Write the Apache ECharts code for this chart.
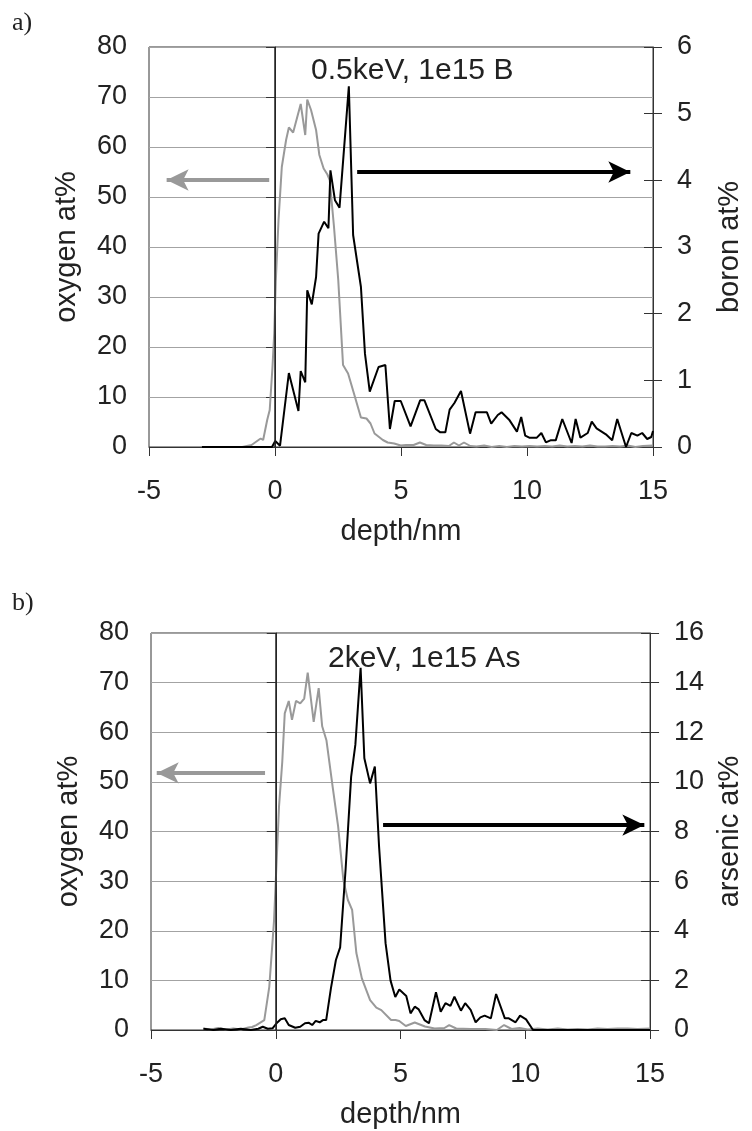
<!DOCTYPE html>
<html><head><meta charset="utf-8">
<script src="https://cdn.jsdelivr.net/npm/echarts@6/dist/echarts.min.js"></script>
<style>html,body{margin:0;padding:0;background:#fff}#c{width:752px;height:1131px}</style>
</head><body><div id="c"></div>
<script>
// ---- data (depth nm, value at%) ----
const depthRange = [-5, 15, 5];
const oxygenRange = [0, 80, 10];
const boronRange = [0, 6, 1];
const arsenicRange = [0, 16, 2];

const topOxygen = [[-2.9,0],[-2.0,0],[-1.3,0],[-0.93,0.4],[-0.57,1.7],[-0.47,1.4],[-0.31,5.4],[-0.21,7.4],[-0.1,16],[-0.03,22.8],[0.03,33],[0.14,45.4],[0.27,56],[0.44,61.4],[0.55,63.9],[0.72,62.9],[1.02,68.6],[1.2,62.4],[1.28,69.5],[1.43,67.4],[1.63,63.4],[1.76,58.4],[1.93,55.7],[2.08,54.5],[2.17,53.4],[2.34,44.1],[2.51,33.4],[2.7,16.4],[2.9,14.7],[3.11,11.1],[3.41,5.9],[3.63,5.7],[3.79,4.7],[3.95,2.7],[4.28,1.4],[4.47,0.9],[4.73,0.7],[4.99,0.3],[5.2,0.4],[5.5,0.4],[5.75,0.9],[6.0,0.4],[6.3,0.3],[6.6,0.3],[6.9,0.2],[7.1,0.9],[7.3,0.3],[7.5,0.9],[7.75,0.2],[8.0,0.1],[8.3,0.3],[8.6,0],[8.9,0.2],[9.2,0],[9.5,0.2],[9.8,0.1],[10.1,0.2],[10.4,0.1],[10.7,0.2],[11.0,0.1],[11.3,0.3],[11.6,0.1],[11.9,0.2],[12.2,0.1],[12.5,0.3],[12.8,0.1],[13.1,0.1],[13.4,0.2],[13.7,0.1],[14.0,0.3],[14.3,0],[14.6,0.2],[15,0.3]];

const topBoron = [[-2.9,0],[-2.0,0],[-1.0,0],[-0.12,0],[0.01,0.09],[0.2,0.02],[0.55,1.11],[0.93,0.54],[1.02,1.14],[1.2,0.97],[1.28,2.35],[1.46,2.14],[1.63,2.55],[1.73,3.2],[1.95,3.38],[2.12,3.28],[2.2,4.15],[2.38,3.7],[2.56,3.59],[2.93,5.41],[3.1,3.18],[3.41,2.4],[3.57,1.4],[3.76,0.83],[4.11,1.2],[4.38,1.23],[4.56,0.27],[4.75,0.69],[4.99,0.69],[5.38,0.31],[5.76,0.7],[5.93,0.7],[6.38,0.27],[6.56,0.22],[6.76,0.22],[6.93,0.56],[7.12,0.66],[7.38,0.84],[7.74,0.2],[7.96,0.52],[8.41,0.52],[8.58,0.35],[8.84,0.48],[8.99,0.52],[9.31,0.4],[9.6,0.23],[9.77,0.45],[9.93,0.17],[10.09,0.14],[10.39,0.14],[10.57,0.21],[10.75,0.07],[10.93,0.1],[11.14,0.1],[11.4,0.42],[11.77,0.06],[11.93,0.42],[12.12,0.14],[12.41,0.21],[12.57,0.38],[12.76,0.28],[13.13,0.19],[13.38,0.1],[13.58,0.42],[13.93,0],[14.14,0.21],[14.38,0.17],[14.57,0.21],[14.77,0.12],[14.93,0.15],[15.0,0.24]];

const botOxygen = [[-2.9,0.3],[-2.6,0.1],[-2.3,0.4],[-2.0,0.1],[-1.7,0.3],[-1.4,0.1],[-1.1,0.5],[-0.95,0.6],[-0.78,1],[-0.46,2],[-0.26,8.7],[-0.07,22],[0.13,45],[0.26,54],[0.36,63.8],[0.52,66.3],[0.65,62.5],[0.81,66.3],[0.98,65.8],[1.14,66.8],[1.28,72],[1.52,62.1],[1.72,68.9],[1.86,61.2],[2.03,58.4],[2.28,49],[2.5,41],[2.71,30.2],[2.89,26.2],[3.06,24.2],[3.23,15.5],[3.45,10.4],[3.78,6],[4.03,4.5],[4.23,4],[4.62,2],[4.8,2],[4.95,1.8],[5.21,0.8],[5.57,1.5],[5.98,0.7],[6.37,0.3],[6.76,0.4],[6.95,1],[7.23,0.3],[7.81,0.2],[8.4,0.2],[8.86,0],[9.15,1],[9.45,0.2],[9.77,0.4],[10.1,0.1],[10.5,0.3],[10.9,0.1],[11.3,0.3],[11.7,0.1],[12.1,0.2],[12.5,0.1],[12.9,0.3],[13.3,0.2],[13.7,0.3],[14.1,0.3],[14.5,0.2],[15,0.3]];

const botArsenic = [[-2.9,0.05],[-2.5,0],[-2.2,0.05],[-1.8,0],[-1.4,0.05],[-1.0,0],[-0.7,0.05],[-0.52,0.13],[-0.32,0.05],[-0.13,0.07],[0.03,0.27],[0.2,0.43],[0.36,0.47],[0.52,0.2],[0.78,0.09],[0.98,0.13],[1.17,0.27],[1.33,0.29],[1.46,0.2],[1.6,0.37],[1.76,0.31],[1.89,0.4],[2.02,0.4],[2.21,1.68],[2.41,2.82],[2.58,3.33],[2.8,6.5],[3.02,10.2],[3.19,11.5],[3.4,14.6],[3.55,10.95],[3.78,9.94],[3.97,10.62],[4.14,7.39],[4.4,3.5],[4.6,1.99],[4.79,1.33],[4.95,1.63],[5.23,1.37],[5.4,0.67],[5.57,0.94],[5.73,0.83],[5.96,0.4],[6.14,0.27],[6.42,1.52],[6.61,0.74],[6.8,1.08],[7.0,0.97],[7.16,1.34],[7.42,0.78],[7.59,1.08],[7.81,0.81],[8.01,0.31],[8.2,0.51],[8.37,0.58],[8.62,0.47],[8.83,1.45],[9.18,0.47],[9.34,0.47],[9.61,0.31],[9.79,0.58],[10.03,0.43],[10.31,0],[11,0],[12,0],[13,0],[14,0],[15,0]];

// arrows: [startDepth, endDepth, level on oxygen axis]
const topGrayArrow = [-0.23, -4.3, 53.4];
const topBlackArrow = [3.26, 14.1, 55];
const botGrayArrow = [-0.43, -4.77, 51.8];
const botBlackArrow = [4.3, 14.77, 41.3];

const labels = {
  topNote: '0.5keV, 1e15 B', botNote: '2keV, 1e15 As',
  depth: 'depth/nm', oxygen: 'oxygen at%', boron: 'boron at%', arsenic: 'arsenic at%'
};

// ---- styling ----
const FONT = 'Liberation Sans, Arial, sans-serif';
const TXT = '#222';
const tickFont = 27, nameFont = 29;

function xAxisFor(gi) {
  return {
    gridIndex: gi, type: 'value', min: depthRange[0], max: depthRange[1], interval: depthRange[2],
    axisLine: { show: true, onZero: false, lineStyle: { color: '#333', width: 1 } },
    axisTick: { show: true, length: 9, lineStyle: { color: '#333' } },
    axisLabel: { fontSize: tickFont, fontFamily: FONT, color: TXT, margin: 31 },
    splitLine: { show: false },
    name: labels.depth, nameLocation: 'middle', nameGap: 70,
    nameTextStyle: { fontSize: nameFont, fontFamily: FONT, color: TXT }
  };
}
function leftAxisFor(gi) {
  return {
    gridIndex: gi, type: 'value', position: 'left', min: oxygenRange[0], max: oxygenRange[1], interval: oxygenRange[2],
    axisLine: { show: true, lineStyle: { color: '#333' } },
    axisTick: { show: true, length: 9, lineStyle: { color: '#333' } },
    axisLabel: { fontSize: tickFont, fontFamily: FONT, color: TXT, margin: 22 },
    splitLine: { show: true, lineStyle: { color: '#a3a3a3', width: 1 } },
    name: labels.oxygen, nameLocation: 'middle', nameGap: 68,
    nameTextStyle: { fontSize: nameFont, fontFamily: FONT, color: TXT }
  };
}
function rightAxisFor(gi, range, name) {
  return {
    gridIndex: gi, type: 'value', position: 'right', min: range[0], max: range[1], interval: range[2],
    axisLine: { show: true, lineStyle: { color: '#333' } },
    axisTick: { show: true, length: 9, lineStyle: { color: '#333' } },
    axisLabel: { fontSize: tickFont, fontFamily: FONT, color: TXT, margin: 24 },
    splitLine: { show: false },
    name: name, nameLocation: 'middle', nameGap: 62,
    nameTextStyle: { fontSize: nameFont, fontFamily: FONT, color: TXT }
  };
}
function rightInnerTicks(gi, range) {
  return {
    gridIndex: gi, type: 'value', position: 'right', min: range[0], max: range[1], interval: range[2],
    axisLine: { show: false }, axisLabel: { show: false }, splitLine: { show: false },
    axisTick: { show: true, inside: true, length: 9, lineStyle: { color: '#333' } }
  };
}
function arrow(a, color) {
  return [
    { coord: [a[0], a[2]], symbol: 'none', lineStyle: { color: color, width: 4, type: 'solid' } },
    { coord: [a[1], a[2]], symbol: 'arrow', symbolSize: [16, 22] }
  ];
}
function oxygenSeries(xi, yi, data, grayA, blackA) {
  return {
    type: 'line', xAxisIndex: xi, yAxisIndex: yi, data: data, showSymbol: false, symbol: 'none',
    lineStyle: { color: '#999999', width: 2 }, z: 2, animation: false,
    markLine: {
      silent: true, symbol: 'none', animation: false, label: { show: false },
      data: [
        [{ coord: [0, oxygenRange[0]], symbol: 'none', lineStyle: { color: '#222', width: 1.5, type: 'solid' } },
         { coord: [0, oxygenRange[1]], symbol: 'none' }],
        arrow(grayA, '#999999'),
        arrow(blackA, '#000000')
      ]
    }
  };
}
function dopantSeries(xi, yi, data) {
  return {
    type: 'line', xAxisIndex: xi, yAxisIndex: yi, data: data, showSymbol: false, symbol: 'none',
    lineStyle: { color: '#000000', width: 2 }, z: 3, animation: false
  };
}

const chart = echarts.init(document.getElementById('c'), null, { renderer: 'canvas' });
chart.setOption({
  backgroundColor: '#fff',
  animation: false,
  grid: [
    { left: 149, right: 752 - 666, top: 47, height: 400, show: true, borderColor: '#333', borderWidth: 1 },
    { left: 151, right: 752 - 663, top: 633, height: 397, show: true, borderColor: '#333', borderWidth: 1 }
  ],
  xAxis: [xAxisFor(0), xAxisFor(1)],
  yAxis: [
    leftAxisFor(0), rightAxisFor(0, boronRange, labels.boron),
    leftAxisFor(1), rightAxisFor(1, arsenicRange, labels.arsenic),
    rightInnerTicks(0, boronRange), rightInnerTicks(1, arsenicRange)
  ],
  series: [
    oxygenSeries(0, 0, topOxygen, topGrayArrow, topBlackArrow),
    dopantSeries(0, 1, topBoron),
    oxygenSeries(1, 2, botOxygen, botGrayArrow, botBlackArrow),
    dopantSeries(1, 3, botArsenic)
  ],
  graphic: [
    { type: 'text', left: 12, top: 10, style: { text: 'a)', font: '26px "Liberation Serif", serif', fill: TXT } },
    { type: 'text', left: 12, top: 590, style: { text: 'b)', font: '26px "Liberation Serif", serif', fill: TXT } },
    { type: 'text', left: 311, top: 56, style: { text: labels.topNote, font: '30px "Liberation Sans", Arial, sans-serif', fill: TXT } },
    { type: 'text', left: 328, top: 644, style: { text: labels.botNote, font: '30px "Liberation Sans", Arial, sans-serif', fill: TXT } }
  ]
});
</script>
</body></html>
